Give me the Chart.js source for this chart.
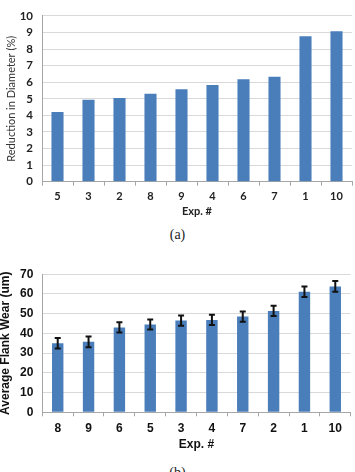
<!DOCTYPE html>
<html>
<head>
<meta charset="utf-8">
<script src="https://cdn.jsdelivr.net/npm/chart.js@4"></script>
<style>
  html, body { margin: 0; padding: 0; background: #fff; width: 355px; height: 472px; overflow: hidden; }
  .box { position: absolute; }
  .cap { position: absolute; width: 355px; left: 0; text-align: center; font-family: 'Liberation Serif', 'DejaVu Serif', serif; font-size: 14px; color: #222; }
</style>
</head>
<body>
<div class="box" style="left:0;top:0;width:355px;height:222px"><canvas id="reducaoChart"></canvas></div>
<div class="cap" style="top:227px">(a)</div>
<div class="box" style="left:-4px;top:258px;width:359px;height:198px"><canvas id="desgasteChart"></canvas></div>
<div class="cap" style="top:465px">(b)</div>
<script>
const expTopo = ["5", "3", "2", "8", "9", "4", "6", "7", "1", "10"];
const reducaoDiametro = [4.2, 4.95, 5.05, 5.3, 5.58, 5.83, 6.18, 6.33, 8.78, 9.07];

const expBaixo = ["8", "9", "6", "5", "3", "4", "7", "2", "1", "10"];
const desgasteFlanco = [35.0, 35.7, 43.0, 44.5, 46.5, 46.8, 48.5, 51.4, 61.1, 63.8];
const erroDesgaste = [2.6, 2.7, 2.6, 2.5, 2.6, 2.6, 2.6, 2.6, 2.7, 2.7];

const corBarra = "#4a7ebb";
const gridColor = "#d9d9d9";
const eixoColor = "#a6a6a6";

Chart.defaults.animation = false;
Chart.defaults.responsive = true;
Chart.defaults.maintainAspectRatio = false;

// barras de erro desenhadas com a escala do proprio grafico
const barrasErro = {
    id: "barrasErro",
    afterDatasetsDraw(chart, args, opts) {
        if (!opts.erros) return;
        const ctx = chart.ctx;
        const y = chart.scales.y;
        const meta = chart.getDatasetMeta(0);
        const valores = chart.data.datasets[0].data;
        ctx.save();
        ctx.strokeStyle = "#111";
        ctx.lineWidth = 2;
        for (let i = 0; i < meta.data.length; i++) {
            const x = meta.data[i].x;
            const yAlto = y.getPixelForValue(valores[i] + opts.erros[i]);
            const yBaixo = y.getPixelForValue(valores[i] - opts.erros[i]);
            ctx.beginPath();
            ctx.moveTo(x, yAlto); ctx.lineTo(x, yBaixo);
            ctx.moveTo(x - 3, yAlto); ctx.lineTo(x + 3, yAlto);
            ctx.moveTo(x - 3, yBaixo); ctx.lineTo(x + 3, yBaixo);
            ctx.stroke();
        }
        ctx.restore();
    }
};

function gerarGraficoReducao() {
    const fonte = "Lato, 'Open Sans', sans-serif";
    new Chart(document.getElementById("reducaoChart"), {
        type: "bar",
        data: {
            labels: expTopo,
            datasets: [{
                data: reducaoDiametro,
                backgroundColor: corBarra,
                barPercentage: 0.39,
                categoryPercentage: 1
            }]
        },
        options: {
            layout: { autoPadding: false, padding: { top: 9, right: 3, left: 0, bottom: 3 } },
            plugins: { legend: { display: false }, tooltip: { enabled: false } },
            scales: {
                x: {
                    afterFit: s => { s.height = 37.3; },
                    grid: { display: true, drawOnChartArea: false, offset: true, tickLength: 4, color: eixoColor },
                    border: { color: eixoColor },
                    ticks: { padding: 4, color: "#222", font: { family: fonte, size: 11, weight: "bold" } },
                    title: { display: true, text: "Exp. #", color: "#222", padding: { top: 0, bottom: 0.7 }, font: { family: fonte, size: 11, weight: "bold" } }
                },
                y: {
                    min: 0, max: 10,
                    afterFit: s => { s.width = 42; },
                    grid: { color: gridColor, drawTicks: false },
                    border: { color: eixoColor },
                    ticks: { stepSize: 1, autoSkip: false, padding: 9, color: "#222", font: { family: fonte, size: 11.5, weight: "bold" } },
                    title: { display: true, text: "Reduction in Diameter (%)", color: "#333", padding: { top: 5, bottom: 0 }, font: { family: fonte, size: 11 } }
                }
            }
        }
    });
}

function gerarGraficoDesgaste() {
    const fonte = "'Liberation Sans', Arial, sans-serif";
    new Chart(document.getElementById("desgasteChart"), {
        type: "bar",
        data: {
            labels: expBaixo,
            datasets: [{
                data: desgasteFlanco,
                backgroundColor: corBarra,
                barPercentage: 0.37,
                categoryPercentage: 1
            }]
        },
        plugins: [barrasErro],
        options: {
            layout: { autoPadding: false, padding: { top: 15.3, right: 4.3, left: 0, bottom: 0 } },
            plugins: { legend: { display: false }, tooltip: { enabled: false }, barrasErro: { erros: erroDesgaste } },
            scales: {
                x: {
                    afterFit: s => { s.height = 43.7; },
                    grid: { display: true, drawOnChartArea: false, offset: true, tickLength: 4, color: eixoColor },
                    border: { color: eixoColor },
                    ticks: { padding: 5, color: "#111", font: { family: fonte, size: 12, weight: "bold" } },
                    title: { display: true, text: "Exp. #", color: "#111", padding: { top: 0, bottom: 3.8 }, font: { family: fonte, size: 12, weight: "bold" } }
                },
                y: {
                    min: 0, max: 70,
                    afterFit: s => { s.width = 46.3; },
                    grid: { color: gridColor, drawTicks: false },
                    border: { color: eixoColor },
                    ticks: { stepSize: 10, autoSkip: false, padding: 9, color: "#111", font: { family: fonte, size: 12, weight: "bold" } },
                    title: { display: true, text: "Average Flank Wear (um)", color: "#111", padding: { top: 2, bottom: 0 }, font: { family: fonte, size: 12, weight: "bold" } }
                }
            }
        }
    });
}

gerarGraficoReducao();
gerarGraficoDesgaste();
</script>
</body>
</html>
